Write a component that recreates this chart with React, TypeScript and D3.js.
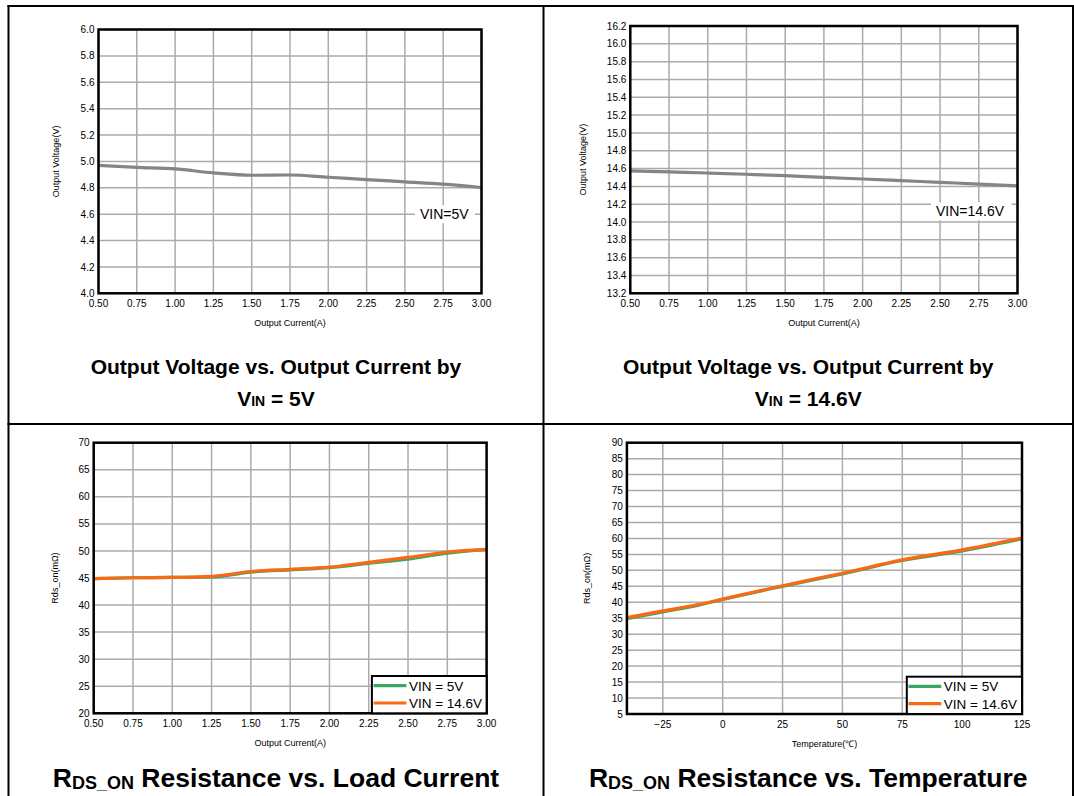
import React from "react";
import * as d3 from "d3";

// ---------- data ----------
const currentPoints = [0.5, 0.75, 1.0, 1.25, 1.5, 1.75, 2.0, 2.25, 2.5, 2.75, 3.0];
const currentTicks = [0.5, 0.75, 1.0, 1.25, 1.5, 1.75, 2.0, 2.25, 2.5, 2.75, 3.0];

const vout5V = [4.97, 4.955, 4.943, 4.913, 4.895, 4.897, 4.88, 4.862, 4.845, 4.828, 4.802];
const vout5Ticks = [4.0, 4.2, 4.4, 4.6, 4.8, 5.0, 5.2, 5.4, 5.6, 5.8, 6.0];

const vout146V = [14.574, 14.562, 14.55, 14.536, 14.52, 14.5, 14.483, 14.464, 14.445, 14.426, 14.405];
const vout146Ticks = [13.2, 13.4, 13.6, 13.8, 14.0, 14.2, 14.4, 14.6, 14.8, 15.0, 15.2, 15.4, 15.6, 15.8, 16.0, 16.2];

const rdsLoad5V = [44.9, 45.05, 45.1, 45.2, 46.1, 46.5, 46.9, 47.7, 48.5, 49.6, 50.3];
const rdsLoad146V = [44.9, 45.05, 45.1, 45.3, 46.2, 46.6, 47.0, 47.9, 48.8, 49.8, 50.3];
const rdsLoadTicks = [20, 25, 30, 35, 40, 45, 50, 55, 60, 65, 70];

const tempPoints = [-40, -25, -10, 0, 25, 50, 75, 100, 125];
const rdsTemp5V = [34.9, 37.0, 39.1, 40.9, 45.0, 48.9, 53.1, 56.1, 59.9];
const rdsTemp146V = [35.2, 37.3, 39.3, 41.0, 45.2, 49.1, 53.3, 56.4, 60.1];
const tempTicks = [-25, 0, 25, 50, 75, 100, 125];
const rdsTempTicks = [5, 10, 15, 20, 25, 30, 35, 40, 45, 50, 55, 60, 65, 70, 75, 80, 85, 90];

const legendLabels = ["VIN = 5V", "VIN = 14.6V"];

// ---------- styles ----------
const FONT = "'Liberation Sans', Arial, Helvetica, sans-serif";
const GRID = "#ababab";
const GRAY_LINE = "#858585";
const GREEN = "#3aa767";
const ORANGE = "#fa6a14";

type Series = { xs: number[]; ys: number[]; color: string };

type PanelProps = {
  left: number;
  right: number;
  top: number;
  bottom: number;
  xDomain: [number, number];
  yDomain: [number, number];
  xTicks: number[];
  yTicks: number[];
  xFmt: (v: number) => string;
  yFmt: (v: number) => string;
  series: Series[];
  xTitle: string;
  yTitle: string;
  yTitleX: number;
  annotation?: { text: string; x0: number; x1: number; yVal: number };
  legend?: { x0: number; y0: number };
};

function Panel(p: PanelProps) {
  const x = d3.scaleLinear().domain(p.xDomain).range([p.left, p.right]);
  const y = d3.scaleLinear().domain(p.yDomain).range([p.bottom, p.top]);
  const line = d3
    .line<[number, number]>()
    .x((d) => x(d[0]))
    .y((d) => y(d[1]))
    .curve(d3.curveMonotoneX);
  const cy = (p.top + p.bottom) / 2;
  const cx = (p.left + p.right) / 2;

  return (
    <g>
      {p.xTicks.map((t, i) => (
        <line key={"gx" + i} x1={x(t)} x2={x(t)} y1={p.top} y2={p.bottom} stroke={GRID} strokeWidth={1.5} />
      ))}
      {p.yTicks.map((t, i) => (
        <line key={"gy" + i} x1={p.left} x2={p.right} y1={y(t)} y2={y(t)} stroke={GRID} strokeWidth={1.5} />
      ))}
      {p.series.map((s, i) => (
        <path
          key={"s" + i}
          d={line(s.xs.map((v, j) => [v, s.ys[j]] as [number, number])) || ""}
          fill="none"
          stroke={s.color}
          strokeWidth={3.2}
          strokeLinejoin="round"
        />
      ))}
      {p.annotation && (
        <g>
          <rect
            x={p.annotation.x0}
            y={y(p.annotation.yVal) - 9}
            width={p.annotation.x1 - p.annotation.x0}
            height={18}
            fill="#fff"
          />
          <text
            x={p.annotation.x0 + 5}
            y={y(p.annotation.yVal) + 5}
            fontFamily={FONT}
            fontSize={14}
            fill="#000"
          >
            {p.annotation.text}
          </text>
        </g>
      )}
      <rect
        x={p.left}
        y={p.top}
        width={p.right - p.left}
        height={p.bottom - p.top}
        fill="none"
        stroke="#000"
        strokeWidth={2.5}
      />
      {p.legend && (
        <g>
          <rect
            x={p.legend.x0}
            y={p.legend.y0}
            width={p.right - p.legend.x0}
            height={p.bottom - p.legend.y0}
            fill="#fff"
            stroke="#000"
            strokeWidth={2}
          />
          {legendLabels.map((lab, i) => {
            const ly = p.legend!.y0 + 9.7 + i * 17.3;
            return (
              <g key={"lg" + i}>
                <line
                  x1={p.legend!.x0 + 1.7}
                  x2={p.legend!.x0 + 34.5}
                  y1={ly}
                  y2={ly}
                  stroke={i === 0 ? GREEN : ORANGE}
                  strokeWidth={3.2}
                />
                <text x={p.legend!.x0 + 37} y={ly + 4.8} fontFamily={FONT} fontSize={13.5} fill="#000">
                  {lab}
                </text>
              </g>
            );
          })}
        </g>
      )}
      {p.xTicks.map((t, i) => (
        <text
          key={"tx" + i}
          x={x(t)}
          y={p.bottom + 14}
          textAnchor="middle"
          fontFamily={FONT}
          fontSize={10}
          fill="#000"
        >
          {p.xFmt(t)}
        </text>
      ))}
      {p.yTicks.map((t, i) => (
        <text
          key={"ty" + i}
          x={p.left - 4}
          y={y(t) + 3.6}
          textAnchor="end"
          fontFamily={FONT}
          fontSize={10}
          fill="#000"
        >
          {p.yFmt(t)}
        </text>
      ))}
      <text x={cx} y={p.bottom + 33} textAnchor="middle" fontFamily={FONT} fontSize={9} fill="#000">
        {p.xTitle}
      </text>
      <text
        transform={`translate(${p.yTitleX},${cy}) rotate(-90)`}
        textAnchor="middle"
        fontFamily={FONT}
        fontSize={9}
        fill="#000"
      >
        {p.yTitle}
      </text>
    </g>
  );
}

const f2 = d3.format(".2f");
const f1 = d3.format(".1f");
const f0 = d3.format("d");

export default function App() {
  const colL = 8.5;
  const colM = 543.5;
  const colR = 1073;
  const rowDiv = 424;
  const c1 = (colL + colM) / 2;
  const c2 = (colM + colR) / 2;

  return (
    <div style={{ position: "absolute", left: 0, top: 0, width: 1074, height: 796, background: "#fff" }}>
      <svg width={1074} height={796} viewBox="0 0 1074 796" style={{ display: "block" }}>
        <rect x={0} y={0} width={1074} height={796} fill="#fff" />

        <line x1={colL - 1} x2={colR + 1} y1={6} y2={6} stroke="#000" strokeWidth={2} />
        <line x1={colL - 1} x2={colR + 1} y1={rowDiv} y2={rowDiv} stroke="#000" strokeWidth={2} />
        <line x1={colL} x2={colL} y1={5} y2={796} stroke="#000" strokeWidth={2} />
        <line x1={colM} x2={colM} y1={5} y2={796} stroke="#000" strokeWidth={2} />
        <line x1={colR} x2={colR} y1={5} y2={796} stroke="#000" strokeWidth={2} />

        <Panel
          left={98.5}
          right={481.5}
          top={29.5}
          bottom={293.3}
          xDomain={[0.5, 3.0]}
          yDomain={[4.0, 6.0]}
          xTicks={currentTicks}
          yTicks={vout5Ticks}
          xFmt={f2}
          yFmt={f1}
          series={[{ xs: currentPoints, ys: vout5V, color: GRAY_LINE }]}
          xTitle="Output Current(A)"
          yTitle="Output Voltage(V)"
          yTitleX={59}
          annotation={{ text: "VIN=5V", x0: 415, x1: 475, yVal: 4.6 }}
        />

        <Panel
          left={630.3}
          right={1017.5}
          top={26}
          bottom={293.3}
          xDomain={[0.5, 3.0]}
          yDomain={[13.2, 16.2]}
          xTicks={currentTicks}
          yTicks={vout146Ticks}
          xFmt={f2}
          yFmt={f1}
          series={[{ xs: currentPoints, ys: vout146V, color: GRAY_LINE }]}
          xTitle="Output Current(A)"
          yTitle="Output Voltage(V)"
          yTitleX={586}
          annotation={{ text: "VIN=14.6V", x0: 931, x1: 1011.5, yVal: 14.12 }}
        />

        <Panel
          left={93.7}
          right={486.6}
          top={442.7}
          bottom={713.3}
          xDomain={[0.5, 3.0]}
          yDomain={[20, 70]}
          xTicks={currentTicks}
          yTicks={rdsLoadTicks}
          xFmt={f2}
          yFmt={f0}
          series={[
            { xs: currentPoints, ys: rdsLoad5V, color: GREEN },
            { xs: currentPoints, ys: rdsLoad146V, color: ORANGE },
          ]}
          xTitle="Output Current(A)"
          yTitle="Rds_on(mΩ)"
          yTitleX={58}
          legend={{ x0: 371.9, y0: 676 }}
        />

        <Panel
          left={626.9}
          right={1022}
          top={442.7}
          bottom={714}
          xDomain={[-40, 125]}
          yDomain={[5, 90]}
          xTicks={tempTicks}
          yTicks={rdsTempTicks}
          xFmt={f0}
          yFmt={f0}
          series={[
            { xs: tempPoints, ys: rdsTemp5V, color: GREEN },
            { xs: tempPoints, ys: rdsTemp146V, color: ORANGE },
          ]}
          xTitle="Temperature(℃)"
          yTitle="Rds_on(mΩ)"
          yTitleX={590}
          legend={{ x0: 906.8, y0: 676.7 }}
        />

        <text x={c1} y={373.5} textAnchor="middle" fontFamily={FONT} fontWeight="bold" fontSize={21} fill="#000">
          Output Voltage vs. Output Current by
        </text>
        <text x={c1} y={405.5} textAnchor="middle" fontFamily={FONT} fontWeight="bold" fontSize={21} fill="#000">
          V<tspan fontSize={14}>IN</tspan> = 5V
        </text>
        <text x={c2} y={373.5} textAnchor="middle" fontFamily={FONT} fontWeight="bold" fontSize={21} fill="#000">
          Output Voltage vs. Output Current by
        </text>
        <text x={c2} y={405.5} textAnchor="middle" fontFamily={FONT} fontWeight="bold" fontSize={21} fill="#000">
          V<tspan fontSize={14}>IN</tspan> = 14.6V
        </text>
        <text x={c1} y={787} textAnchor="middle" fontFamily={FONT} fontWeight="bold" fontSize={26.5} fill="#000">
          R<tspan fontSize={18} dy={2}>DS_ON</tspan>
          <tspan dy={-2}> Resistance vs. Load Current</tspan>
        </text>
        <text x={c2} y={787} textAnchor="middle" fontFamily={FONT} fontWeight="bold" fontSize={26.5} fill="#000">
          R<tspan fontSize={18} dy={2}>DS_ON</tspan>
          <tspan dy={-2}> Resistance vs. Temperature</tspan>
        </text>
      </svg>
    </div>
  );
}
